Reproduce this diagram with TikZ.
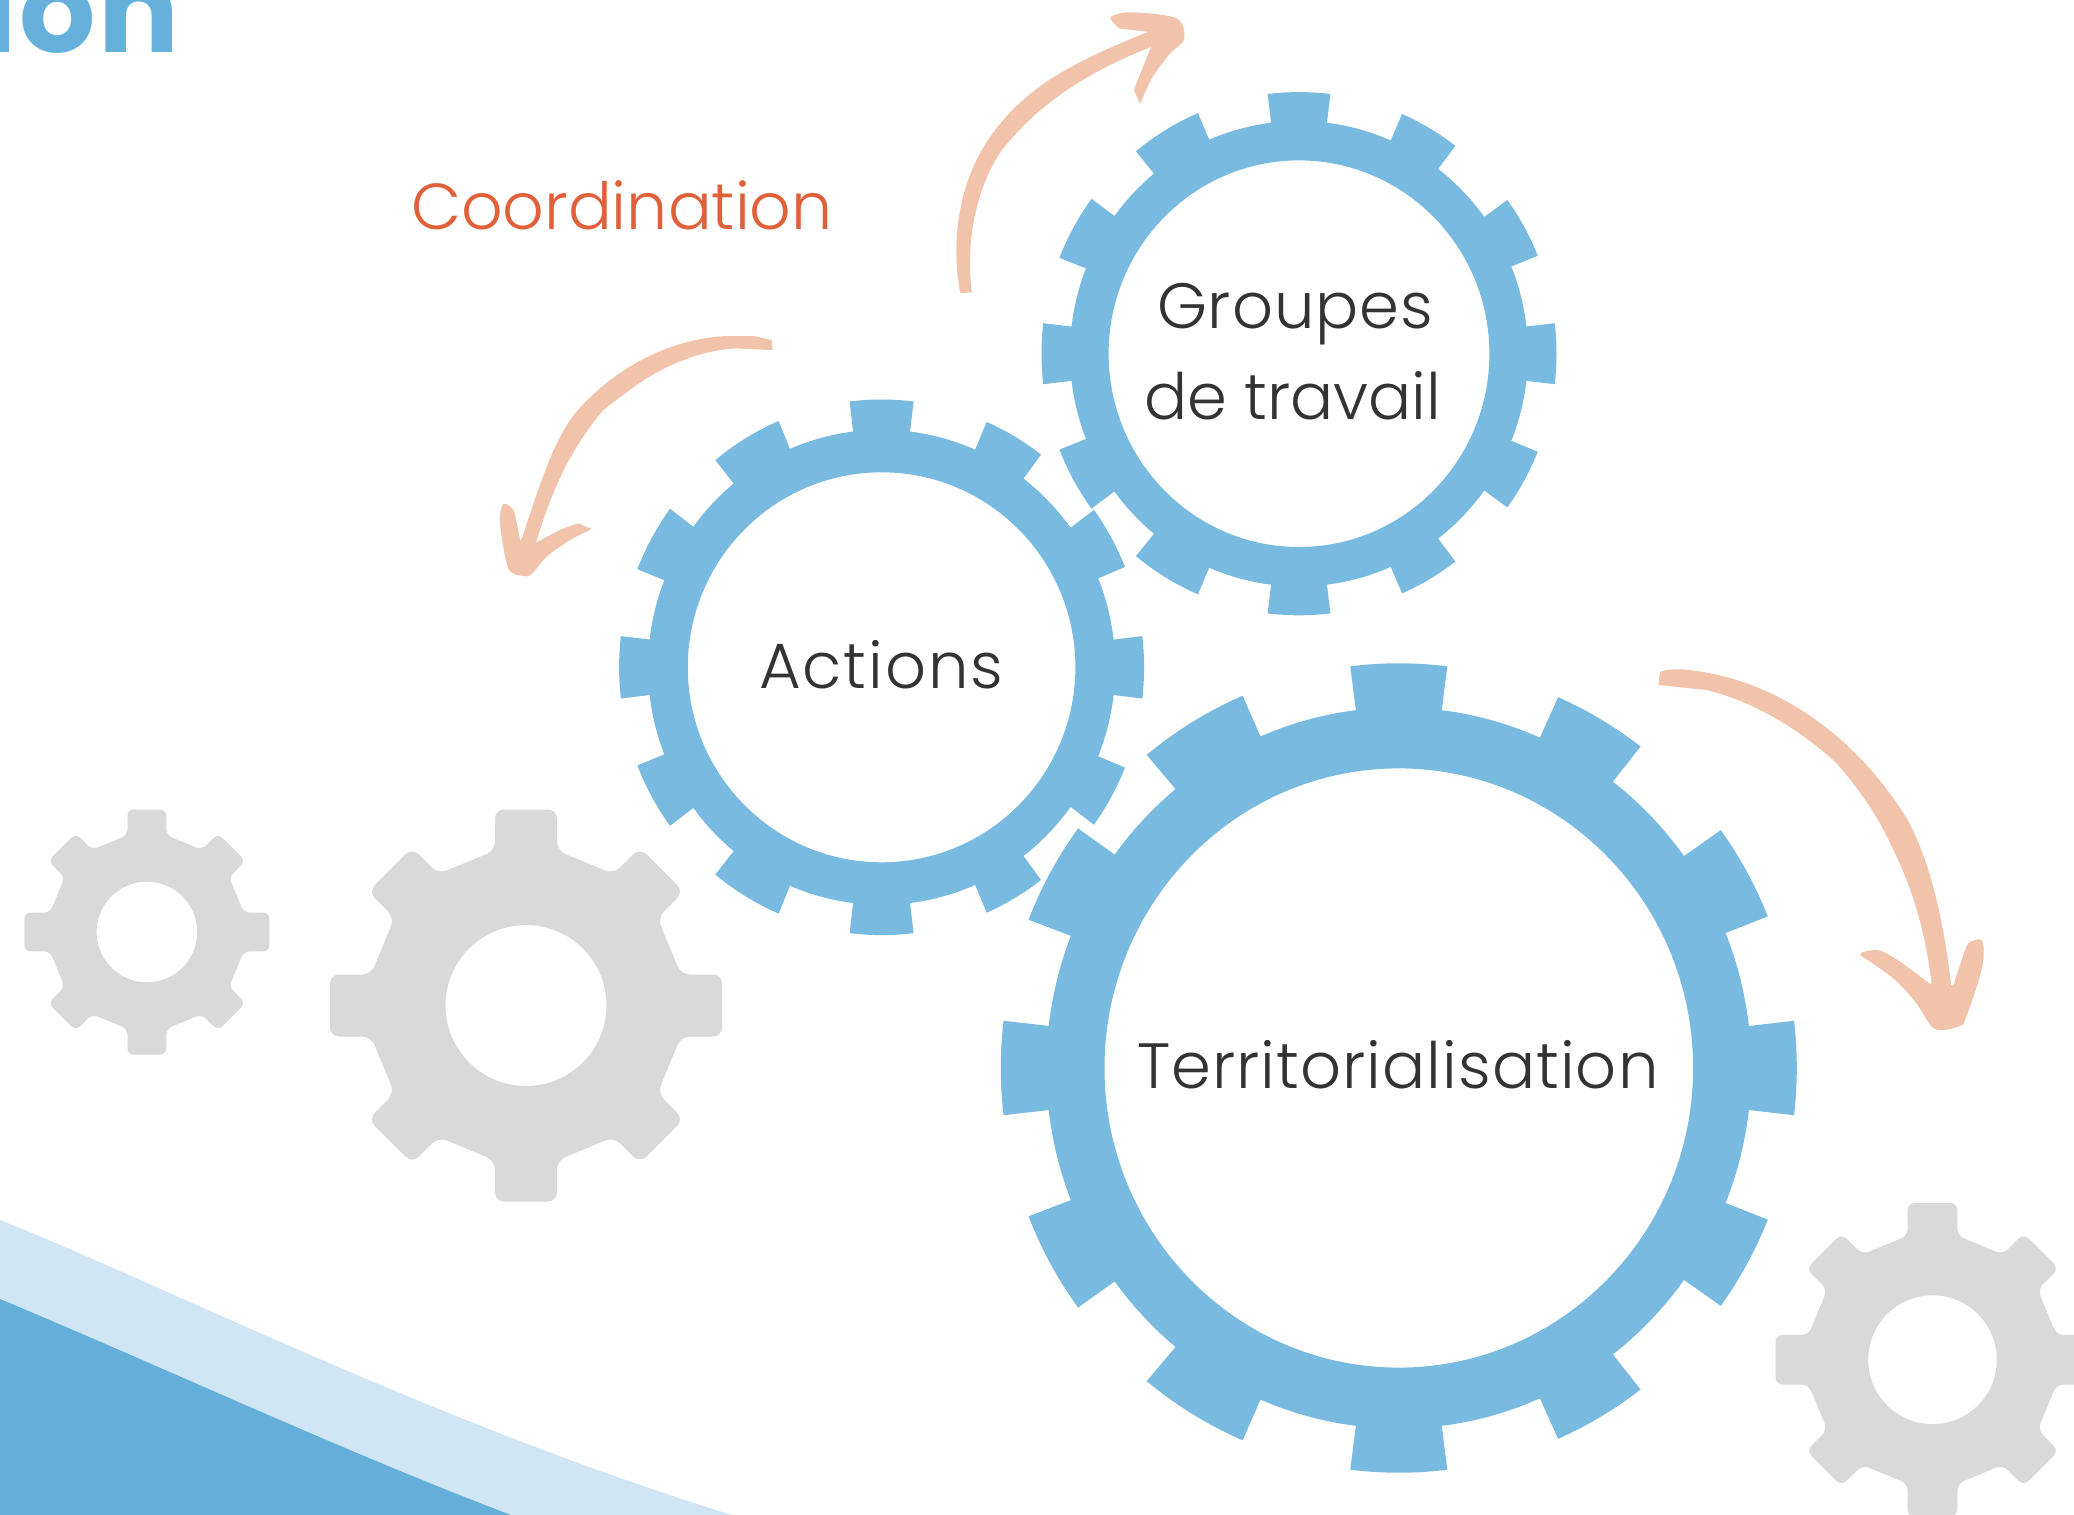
\documentclass[tikz,border=0pt]{standalone}
\usepackage{fontspec}
\setmainfont{Poppins}
\newfontfamily\lightf{Poppins}[UprightFont=* Light]
\newfontfamily\boldf{Poppins}[UprightFont=* Bold]
\definecolor{gearblue}{HTML}{79BAE1}
\definecolor{geargray}{HTML}{D9D9D9}
\definecolor{wavelight}{HTML}{D0E6F4}
\definecolor{wavedark}{HTML}{64AFDA}
\definecolor{headblue}{HTML}{65B1DC}
\definecolor{inktext}{HTML}{333333}
\definecolor{coordorange}{HTML}{E0603A}
\definecolor{arrowpeach}{HTML}{F2C3AB}
\tikzset{
 gearlabel/.style={anchor=base west,inner sep=0pt,outer sep=0pt,text=inktext,font=\lightf\fontsize{32}{38}\selectfont},
 peach/.style={fill=arrowpeach,draw=none},
 pl/.style={smooth,tension=.5}
}
% blue gear: cx cy outerx outery rootx rooty innerx innery (in reference pixels)
\newcommand{\bluegear}[8]{%
 \begin{scope}[shift={(#1,#2)}]
 \fill[gearblue,even odd rule] (-6.7:#5*0.5pt and #6*0.5pt)
  foreach \s/\e/\n in {-6.7/6.7/22,22/36/52.6,52.6/66.4/83,83/97/113.1,113.1/129.3/143.7,143.7/158.5/173.3,173.3/186.7/201.5,201.5/216.3/230.7,230.7/246.9/263,263/277/293.6,293.6/307.4/324,324/338/353.3}{
   -- (\s:#3*0.5pt and #4*0.5pt)
   arc[start angle=\s,end angle=\e,x radius=#3*0.5pt,y radius=#4*0.5pt]
   -- (\e:#5*0.5pt and #6*0.5pt)
   arc[start angle=\e,end angle=\n,x radius=#5*0.5pt,y radius=#6*0.5pt]
  } -- cycle
  (0,0) circle[x radius=#7*0.5pt,y radius=#8*0.5pt];
 \end{scope}}
% gray gear: cx cy scale corner-radius
\newcommand{\graygear}[4]{%
 \begin{scope}[shift={(#1,#2)},scale=#3]
 \fill[geargray,even odd rule,rounded corners=#4] (0,-196)
  foreach \a/\t/\n in {0/196/192,45/192/196,90/196/192,135/192/196,180/196/192,225/192/196,270/196/192,315/192/196}{
   -- ([rotate=-\a]31,-\t) -- ([rotate=-\a]31,-155)
   -- ([rotate=-\a-45]-31,-155) -- ([rotate=-\a-45]-31,-\n)
  } -- cycle
  [sharp corners] (0,0) circle[radius=40.25pt];
 \end{scope}}
\begin{document}
\begin{tikzpicture}[x=0.5pt,y=-0.5pt]
\useasboundingbox (0,0) rectangle (2074,1515);
\clip (0,0) rectangle (2074,1515);
\fill[white] (0,0) rectangle (2074,1515);
% waves
\fill[wavelight] (0,1220) .. controls (170,1288) and (440,1425) .. (732,1515) -- (0,1515) -- cycle;
\fill[wavedark] (0,1299) .. controls (170,1370) and (340,1450) .. (511,1515) -- (0,1515) -- cycle;
% heading fragment
\node[anchor=base west,inner sep=0pt,text=headblue,font=\boldf\fontsize{60}{64}\selectfont\addfontfeature{LetterSpace=2}] (heading) at (-19,53) {ion};
% gray gears
\graygear{146.9}{932}{0.625}{3pt}
\graygear{526}{1005.5}{1}{4.5pt}
\graygear{1932.5}{1359.7}{0.8}{3.5pt}
% blue gears
\bluegear{881.6}{667.3}{262.5}{267.8}{233.6}{237.5}{193.8}{195}
\bluegear{1299}{353.7}{257.5}{261.6}{229}{232.7}{190.4}{193.3}
\bluegear{1398.8}{1068}{398}{404.7}{352.5}{360.5}{294.3}{299.6}
% labels
\node[gearlabel,font=\lightf\fontsize{32}{38}\selectfont\addfontfeature{LetterSpace=1.4}] (groupes) at (1157,328.6) {Groupes};
\node[gearlabel] (travail) at (1144,419) {de travail};
\node[gearlabel,font=\lightf\fontsize{32}{38}\selectfont\addfontfeature{LetterSpace=3.1}] (actions) at (759,688) {Actions};
\node[gearlabel,font=\lightf\fontsize{32}{38}\selectfont\addfontfeature{LetterSpace=1.7}] (terr) at (1137,1088) {Territorialisation};
\node[gearlabel,text=coordorange,font=\lightf\fontsize{32.5}{40}\selectfont] (coord) at (411,229) {Coordination};
% arrow over Groupes de travail
\begin{scope}[x=0.20408pt,y=-0.20408pt,shift={(2303,0)}]
\path[peach] (50,718) .. controls (30,620) and (30,440) .. (150,300) .. controls (230,205) and (330,150) .. (510,78)
 -- plot[pl] coordinates {(440,70) (418,42) (470,30) (580,45) (598,95) (560,135) (520,190) (490,255)}
 -- (475,220) -- (517,115) .. controls (390,165) and (250,240) .. (150,370) .. controls (95,450) and (60,580) .. (78,716) -- cycle;
\end{scope}
% arrow beside Territorialisation
\begin{scope}[x=0.16667pt,y=-0.16667pt,shift={(4920,1920)}]
\path[peach] (55,135) -- (60,95) .. controls (90,85) and (130,85) .. (200,98) .. controls (460,145) and (670,325) .. (800,535) .. controls (865,650) and (910,830) .. (933,1035)
 -- plot[pl] coordinates {(940,1037) (965,960) (985,910) (1025,900) (1030,960) (1010,1040) (975,1140) (960,1158) (910,1170) (875,1160) (825,1085) (760,1015) (660,945)}
 -- plot[pl] coordinates {(665,938) (715,930) (780,965) (870,1032)}
 -- (875,1030) .. controls (850,840) and (810,720) .. (720,550) .. controls (680,480) and (630,415) .. (585,365) .. controls (450,245) and (320,180) .. (200,150) -- cycle;
\end{scope}
% arrow beside Actions
\begin{scope}[x=0.16667pt,y=-0.16667pt,shift={(1380,900)}]
\path[peach] (938,150) -- (935,120) -- (880,108) -- (800,108) .. controls (640,115) and (470,195) .. (345,340) .. controls (275,430) and (235,570) .. (182,725)
 -- plot[pl] coordinates {(172,680) (160,630) (130,612) (120,670) (145,805) (190,828) (215,822) (260,770) (330,720) (395,687)}
 -- plot[pl] coordinates {(355,670) (300,690) (228,728)}
 .. controls (270,590) and (320,460) .. (430,330) .. controls (460,305) and (490,285) .. (520,262) .. controls (620,190) and (730,150) .. (830,145) -- cycle;
\end{scope}
\end{tikzpicture}
\end{document}
